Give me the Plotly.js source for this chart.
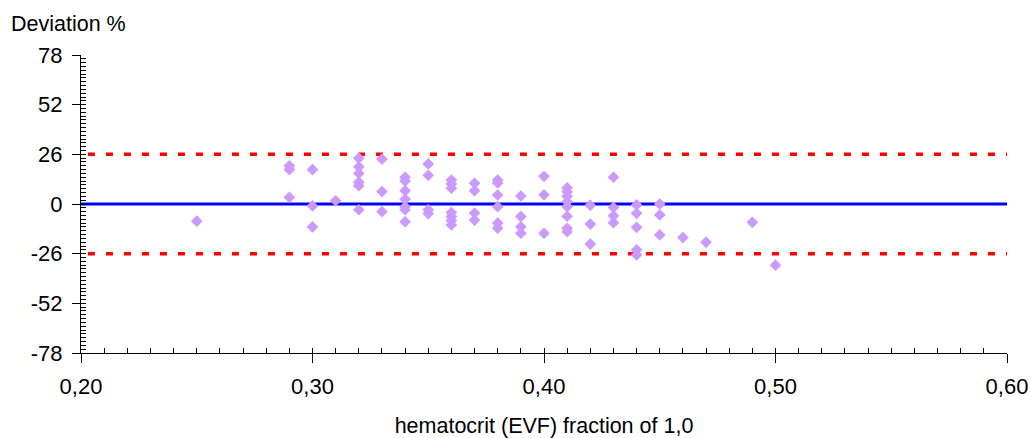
<!DOCTYPE html>
<html>
<head>
<meta charset="utf-8">
<script src="https://cdn.plot.ly/plotly-3.0.1.min.js"></script>
<style>html,body{margin:0;padding:0;background:#fff;}#chart{width:1031px;height:438px;}</style>
</head>
<body>
<div id="chart"></div>
<script>
// hematocrit fraction (x) and deviation % (y)
var hematocrit = [
  0.25,
  0.29, 0.29, 0.29,
  0.30, 0.30, 0.30,
  0.31,
  0.32, 0.32, 0.32, 0.32, 0.32, 0.32,
  0.33, 0.33, 0.33,
  0.34, 0.34, 0.34, 0.34, 0.34, 0.34, 0.34,
  0.35, 0.35, 0.35, 0.35,
  0.36, 0.36, 0.36, 0.36, 0.36, 0.36, 0.36,
  0.37, 0.37, 0.37, 0.37,
  0.38, 0.38, 0.38, 0.38, 0.38, 0.38,
  0.39, 0.39, 0.39, 0.39,
  0.40, 0.40, 0.40,
  0.41, 0.41, 0.41, 0.41, 0.41, 0.41, 0.41, 0.41,
  0.42, 0.42, 0.42,
  0.43, 0.43, 0.43, 0.43,
  0.44, 0.44, 0.44, 0.44, 0.44,
  0.45, 0.45, 0.45,
  0.46,
  0.47,
  0.49,
  0.50
];
var deviation = [
  -9,
  20, 18, 3.5,
  18, -1, -12,
  1.7,
  24, 19.5, 16, 11.4, 9.6, -3,
  23.5, 6.5, -4,
  14, 12, 7, 2.5, -1.5, -3, -9.3,
  21, 15, -3, -5,
  12.5, 10.5, 8.3, -4.5, -6.6, -8.7, -11,
  10.8, 7, -4.7, -8.4,
  12.5, 11, 4.7, -1.4, -10, -12.7,
  4.2, -6.6, -11.9, -15.3,
  14.5, 4.8, -15.3,
  8.5, 6.4, 4, 1.2, -1.4, -6.4, -12.7, -14.5,
  -0.7, -10.5, -21,
  14, -1.8, -6.2, -9.8,
  -0.5, -4.9, -12.2, -24, -26.7,
  0, -5.7, -16.2,
  -17.6,
  -20,
  -9.6,
  -32
];
var meanLine = 0;
var limitUpper = 26;
var limitLower = -26;
var xRange = [0.20, 0.60];
var yRange = [-78, 78];
var xTickVals = [0.20, 0.30, 0.40, 0.50, 0.60];
var xTickText = ["0,20", "0,30", "0,40", "0,50", "0,60"];
var yTickVals = [-78, -52, -26, 0, 26, 52, 78];
var yTickText = ["-78", "-52", "-26", "0", "26", "52", "78"];
var yTitle = "Deviation %";
var xTitle = "hematocrit (EVF) fraction of 1,0";

var fontFam = "Arial, 'Liberation Sans', sans-serif";

var trace = {
  x: hematocrit, y: deviation, type: "scatter", mode: "markers",
  marker: {symbol: "diamond", size: 9, color: "#cc99ff", line: {width: 0}},
  hoverinfo: "x+y", showlegend: false
};

var layout = {
  width: 1031, height: 438,
  margin: {l: 81, r: 24, t: 55, b: 85},
  paper_bgcolor: "#fff", plot_bgcolor: "#fff",
  font: {family: fontFam, size: 22, color: "#000"},
  showlegend: false,
  xaxis: {
    range: xRange, tickmode: "array", tickvals: xTickVals, ticktext: xTickText,
    showgrid: false, zeroline: false, showline: true, linecolor: "#000", linewidth: 1,
    ticks: "outside", ticklen: 9, tickcolor: "#000", tickwidth: 1,
    ticklabelstandoff: 5,
    title: {text: xTitle, font: {size: 21.5}, standoff: 21}
  },
  xaxis2: {
    overlaying: "x", matches: "x", range: xRange, tickmode: "linear", tick0: 0.2, dtick: 0.01,
    showticklabels: false, showgrid: false, zeroline: false, showline: false,
    ticks: "inside", ticklen: 5, tickcolor: "#000", tickwidth: 1, anchor: "y"
  },
  yaxis: {
    range: yRange, tickmode: "array", tickvals: yTickVals, ticktext: yTickText,
    showgrid: false, zeroline: false, showline: true, linecolor: "#000", linewidth: 1,
    ticks: "outside", ticklen: 8, tickcolor: "#000", tickwidth: 1,
    ticklabelstandoff: 5
  },
  yaxis2: {
    overlaying: "y", matches: "y", range: yRange, tickmode: "linear", tick0: 0, dtick: 2,
    showticklabels: false, showgrid: false, zeroline: false, showline: false,
    ticks: "inside", ticklen: 5, tickcolor: "#000", tickwidth: 1, side: "left", anchor: "x"
  },
  shapes: [
    {type: "line", xref: "x", yref: "y", x0: xRange[0], x1: xRange[1], y0: meanLine, y1: meanLine,
     line: {color: "#0000ff", width: 3}, layer: "below"},
    {type: "line", xref: "x", yref: "y", x0: xRange[0] + 0.003, x1: xRange[1], y0: limitUpper, y1: limitUpper,
     line: {color: "#ff0000", width: 3.5, dash: "7px,11px"}, layer: "below"},
    {type: "line", xref: "x", yref: "y", x0: xRange[0] + 0.003, x1: xRange[1], y0: limitLower, y1: limitLower,
     line: {color: "#ff0000", width: 3.5, dash: "7px,11px"}, layer: "below"}
  ],
  annotations: [
    {text: yTitle, xref: "paper", yref: "paper", x: -0.078, y: 1.0, yshift: 31,
     xanchor: "left", yanchor: "middle", showarrow: false, font: {size: 21.5}}
  ]
};

var dummy2 = {x: [0.2], y: [0], xaxis: "x2", yaxis: "y2", mode: "markers", marker: {opacity: 0}, hoverinfo: "skip", showlegend: false};

Plotly.newPlot("chart", [dummy2, trace], layout, {displayModeBar: false, staticPlot: true});
</script>
</body>
</html>
